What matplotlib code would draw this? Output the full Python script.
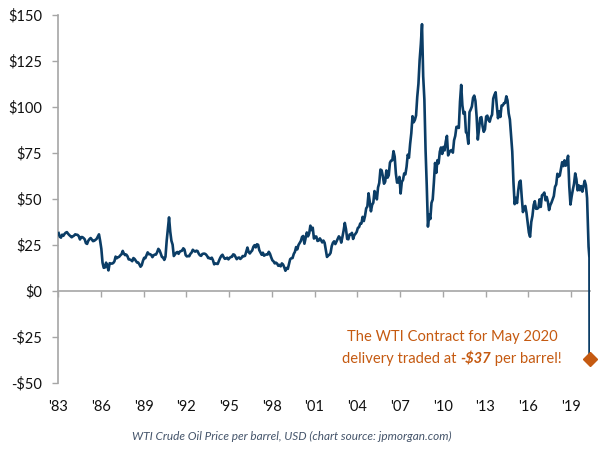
import numpy as np
import matplotlib
matplotlib.use("Agg")
import matplotlib.pyplot as plt
from matplotlib.offsetbox import TextArea, HPacker, VPacker, AnnotationBbox

# Monthly WTI price (USD/barrel), Jan 1983 .. Feb 2020
start_year = 1983
monthly_price = [
    # 1983
    31.5, 29.5, 29.0, 30.6, 30.0, 31.0, 31.7, 32.0, 31.1, 30.4, 29.8, 29.2,
    # 1984
    29.7, 30.1, 30.8, 30.6, 30.5, 29.8, 28.0, 29.3, 29.3, 28.8, 28.1, 26.0,
    # 1985
    25.6, 27.3, 28.2, 28.8, 27.9, 27.1, 27.3, 27.8, 28.3, 29.5, 30.8, 27.2,
    # 1986
    22.9, 15.4, 12.6, 12.8, 15.4, 13.5, 11.2, 15.1, 14.9, 14.9, 15.2, 16.1,
    # 1987
    18.7, 17.8, 18.3, 18.6, 19.4, 20.0, 21.8, 20.3, 19.5, 19.8, 18.9, 17.2,
    # 1988
    17.1, 16.8, 16.2, 17.9, 17.4, 16.5, 15.5, 15.5, 14.5, 13.2, 14.0, 16.3,
    # 1989
    18.0, 17.8, 19.4, 21.0, 20.0, 20.0, 19.6, 18.4, 19.4, 19.8, 19.8, 21.1,
    # 1990
    22.9, 22.1, 20.4, 18.5, 18.2, 16.9, 18.6, 27.2, 33.7, 40.0, 32.3, 27.3,
    # 1991
    25.2, 19.0, 19.9, 20.8, 21.2, 20.2, 21.4, 21.7, 21.9, 23.2, 22.5, 19.5,
    # 1992
    18.8, 19.0, 18.9, 20.2, 20.9, 22.4, 21.8, 21.4, 21.9, 21.7, 20.3, 19.4,
    # 1993
    19.1, 20.1, 20.3, 20.3, 19.9, 19.1, 17.9, 18.0, 17.5, 18.1, 16.7, 14.5,
    # 1994
    15.0, 14.8, 14.7, 16.4, 17.9, 19.1, 19.7, 18.4, 17.5, 17.7, 18.1, 17.2,
    # 1995
    18.0, 18.5, 18.6, 19.9, 19.7, 18.5, 17.3, 18.0, 18.2, 17.4, 18.0, 19.0,
    # 1996
    18.9, 19.1, 21.4, 23.6, 21.2, 20.4, 21.3, 22.0, 24.0, 24.9, 23.7, 25.4,
    # 1997
    25.1, 22.2, 21.0, 19.7, 20.8, 19.2, 19.6, 19.9, 19.8, 21.3, 20.2, 18.3,
    # 1998
    16.7, 16.1, 15.0, 15.4, 14.9, 13.7, 14.2, 13.4, 15.0, 14.4, 12.9, 11.0,
    # 1999
    12.5, 12.0, 14.7, 17.3, 17.8, 17.9, 20.1, 21.3, 23.9, 22.6, 25.0, 26.1,
    # 2000
    27.2, 29.4, 29.9, 25.7, 28.8, 31.8, 29.7, 31.3, 35.5, 33.1, 34.4, 28.5,
    # 2001
    29.6, 29.6, 27.2, 27.4, 28.6, 27.6, 26.4, 27.4, 26.2, 22.2, 18.5, 19.3,
    # 2002
    19.7, 20.7, 24.4, 26.2, 27.0, 25.5, 26.9, 28.4, 29.7, 28.9, 26.3, 29.4,
    # 2003
    32.9, 37.0, 33.6, 28.3, 28.1, 30.7, 30.8, 31.6, 28.3, 30.3, 31.1, 32.1,
    # 2004
    34.3, 34.7, 36.7, 36.7, 40.3, 38.0, 40.7, 44.9, 45.9, 53.1, 48.5, 43.3,
    # 2005
    46.8, 48.0, 54.3, 53.0, 49.8, 56.3, 58.7, 66.0, 65.6, 62.4, 58.3, 59.4,
    # 2006
    65.5, 61.6, 62.9, 69.7, 70.9, 71.0, 76.0, 73.0, 63.8, 58.9, 59.1, 62.0,
    # 2007
    53.0, 59.3, 60.4, 63.9, 63.4, 67.5, 74.1, 72.4, 79.9, 85.8, 95.0, 91.7,
    # 2008
    93.0, 95.4, 105.5, 112.6, 125.4, 134.0, 145.0, 116.7, 104.1, 76.6, 57.3, 35.0,
    # 2009
    41.7, 39.1, 47.9, 49.7, 59.0, 69.6, 64.2, 71.1, 69.4, 75.7, 78.0, 74.5,
    # 2010
    78.3, 76.4, 81.2, 84.3, 73.7, 75.3, 76.3, 76.6, 75.2, 81.9, 84.3, 89.2,
    # 2011
    89.2, 88.6, 102.9, 112.0, 100.9, 96.3, 97.3, 86.3, 85.5, 80.0, 97.2, 98.6,
    # 2012
    100.3, 105.0, 106.2, 103.3, 94.7, 82.3, 87.9, 94.1, 94.5, 89.5, 86.5, 87.9,
    # 2013
    94.8, 95.3, 92.9, 92.0, 94.5, 95.8, 104.6, 106.6, 108.0, 100.5, 93.9, 97.6,
    # 2014
    94.6, 100.8, 100.8, 102.1, 102.2, 105.8, 103.6, 96.5, 93.2, 84.4, 75.8, 59.3,
    # 2015
    47.2, 50.6, 47.8, 54.5, 59.3, 60.0, 50.9, 42.9, 45.5, 46.2, 42.4, 37.2,
    # 2016
    31.7, 29.5, 37.5, 40.8, 46.7, 48.8, 44.7, 44.7, 45.2, 49.8, 45.7, 52.0,
    # 2017
    52.5, 53.5, 49.3, 51.1, 48.5, 44.0, 46.6, 48.0, 49.8, 51.6, 56.6, 57.9,
    # 2018
    63.7, 62.2, 62.7, 66.3, 70.0, 67.9, 71.0, 68.1, 70.2, 73.5, 57.0, 47.0,
    # 2019
    51.4, 55.0, 58.2, 63.9, 60.8, 54.7, 57.4, 54.8, 57.0, 54.0, 57.0, 59.9,
    # 2020
    57.5, 50.5,
]

# Spring 2020 collapse (decimal year, price)
crash_dates = [2020.20, 2020.23, 2020.26, 2020.29, 2020.30]
crash_prices = [31.0, 24.0, 21.0, 18.0, -37.0]

year_ticks = list(range(1983, 2020, 3))
year_labels = ["'%02d" % (y % 100) for y in year_ticks]
price_ticks = [-50, -25, 0, 25, 50, 75, 100, 125, 150]
price_labels = [("-$%d" % -v) if v < 0 else ("$%d" % v) for v in price_ticks]

line_color = "#0B3D66"
accent = "#C55A11"
grey = "#A6A6A6"
font = ["Lato", "DejaVu Sans"]
plt.rcParams["font.family"] = font

months = np.arange(len(monthly_price))
x_monthly = start_year + (months + 0.5) / 12.0
x_all = np.concatenate([x_monthly, crash_dates])
y_all = np.concatenate([monthly_price, crash_prices])

fig = plt.figure(figsize=(6.02, 4.51), dpi=100)
ax = fig.add_axes([58 / 602, 1 - 383 / 451, (590 - 58) / 602, (383 - 15) / 451])

ax.plot(x_all, y_all, color=line_color, lw=1.9, solid_joinstyle="round", zorder=3)
ax.plot([crash_dates[-1]], [crash_prices[-1]], marker="D", color=accent,
        markersize=7, zorder=4, clip_on=False)

ax.set_xlim(1983, 2020.33)
ax.set_ylim(-50, 150)

for s in ("top", "right", "bottom"):
    ax.spines[s].set_visible(False)
ax.spines["left"].set_color(grey)
ax.spines["left"].set_linewidth(1.2)

ax.set_yticks(price_ticks)
ax.set_yticklabels(price_labels)
ax.tick_params(axis="y", direction="out", length=4.5, width=1.0, color=grey,
               pad=7, labelsize=10.5, labelcolor="#111111")
ax.set_xticks(year_ticks)
ax.set_xticklabels(year_labels)
ax.tick_params(axis="x", length=0, pad=12, labelsize=10.5, labelcolor="#111111")

# zero line with tick marks
sec = ax.secondary_xaxis(0.25)
sec.set_xticks(year_ticks)
sec.set_xticklabels([""] * len(year_ticks))
sec.spines["bottom"].set_color(grey)
sec.spines["bottom"].set_linewidth(1.2)
sec.tick_params(axis="x", direction="out", length=4.5, width=1.0, color=grey)

# annotation
fs = 10.6
l1 = TextArea("The WTI Contract for May 2020",
              textprops=dict(color=accent, fontsize=fs, family=font))
p1 = TextArea("delivery traded at ", textprops=dict(color=accent, fontsize=fs, family=font))
p2 = TextArea("-$37", textprops=dict(color=accent, fontsize=fs, family=font,
                                     weight="bold", style="italic"))
p3 = TextArea(" per barrel!", textprops=dict(color=accent, fontsize=fs, family=font))
l2 = HPacker(children=[p1, p2, p3], align="baseline", pad=0, sep=0)
box = VPacker(children=[l1, l2], align="center", pad=0, sep=6)
ab = AnnotationBbox(box, (452 / 602, 1 - 348 / 451), xycoords="figure fraction",
                    frameon=False, box_alignment=(0.5, 0.5))
fig.add_artist(ab)

fig.text(292 / 602, 1 - 436 / 451,
         "WTI Crude Oil Price per barrel, USD (chart source: jpmorgan.com)",
         ha="center", va="center", fontsize=8.5, style="italic", color="#44546A")

fig.savefig("out.png", dpi=100)
